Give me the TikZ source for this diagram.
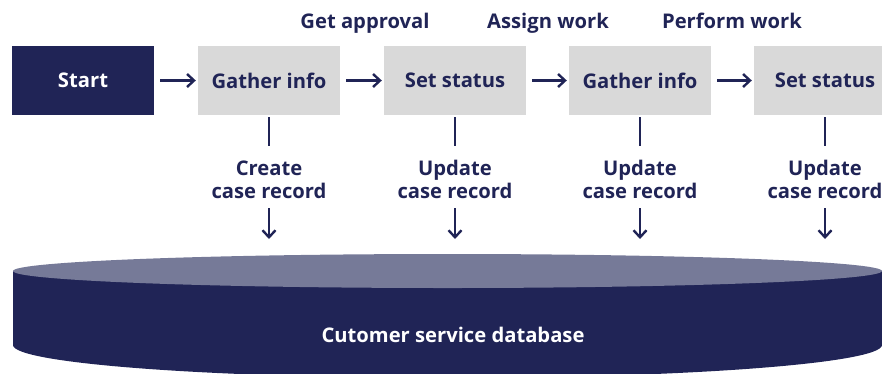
\documentclass[tikz,border=0pt]{standalone}
\usepackage{fontspec}
\setmainfont{Open Sans}
\usetikzlibrary{arrows.meta}
\definecolor{navy}{RGB}{32,36,86}
\definecolor{boxgray}{RGB}{217,217,217}
\definecolor{topgray}{RGB}{118,122,152}
\begin{document}
\begin{tikzpicture}[x=1pt,y=-1pt,
  txt/.style={font=\fontsize{20.2}{23}\selectfont\bfseries, text=navy, inner sep=0pt},
  stepbox/.style={txt, fill=boxgray, minimum width=142pt, minimum height=69pt},
  startbox/.style={stepbox, fill=navy, text=white},
  conn/.style={draw=navy, line width=2.4pt},
  flow/.style={conn, -{Straight Barb[length=7pt,width=13pt,line width=2.4pt]}},
  lbl/.style={txt, align=center, anchor=base},
  toplbl/.style={txt, anchor=base}]
\useasboundingbox (0,0) rectangle (882,373);
\begin{scope}
\clip (0,0) rectangle (882,373);
% database cylinder
\fill[navy] (447.5,345) ellipse[x radius=434.5, y radius=33];
\fill[navy] (13,271) rectangle (882,345);
\fill[topgray] (447.5,271) ellipse[x radius=434.5, y radius=17];
\node[txt, text=white, anchor=base] (db) at (453,342) {Cutomer service database};
% boxes
\node[startbox] (st) at (83,80.5) {Start};
\node[stepbox] (g1) at (269,80.5) {Gather info};
\node[stepbox] (s1) at (455,80.5) {Set status};
\node[stepbox] (g2) at (640,80.5) {Gather info};
\node[stepbox] (s2) at (825,80.5) {Set status};
% horizontal arrows
\draw[flow, shorten <=6pt, shorten >=2pt] (st) -- (g1);
\draw[flow, shorten <=6pt, shorten >=2pt] (g1) -- (s1);
\draw[flow, shorten <=6pt, shorten >=2pt] (s1) -- (g2);
\draw[flow, shorten <=6pt, shorten >=2pt] (g2) -- (s2);
% top labels
\node[toplbl] (l1) at (365,28) {Get approval};
\node[toplbl] (l2) at (548,28) {Assign work};
\node[toplbl] (l3) at (732,28) {Perform work};
% record labels
\node[lbl] (r1) at (269,198) {Create\\case record};
\node[lbl] (r2) at (455,198) {Update\\case record};
\node[lbl] (r3) at (640,198) {Update\\case record};
\node[lbl] (r4) at (825,198) {Update\\case record};
% vertical connectors
\foreach \b/\x in {g1/269, s1/455, g2/640, s2/825}{
  \coordinate (\b a) at (\x,146);
  \coordinate (\b b) at (\x,208);
  \coordinate (\b c) at (\x,239);
  \draw[conn, shorten <=2pt] (\b.south) -- (\b a);
  \draw[flow] (\b b) -- (\b c);
}
\end{scope}
\end{tikzpicture}
\end{document}
